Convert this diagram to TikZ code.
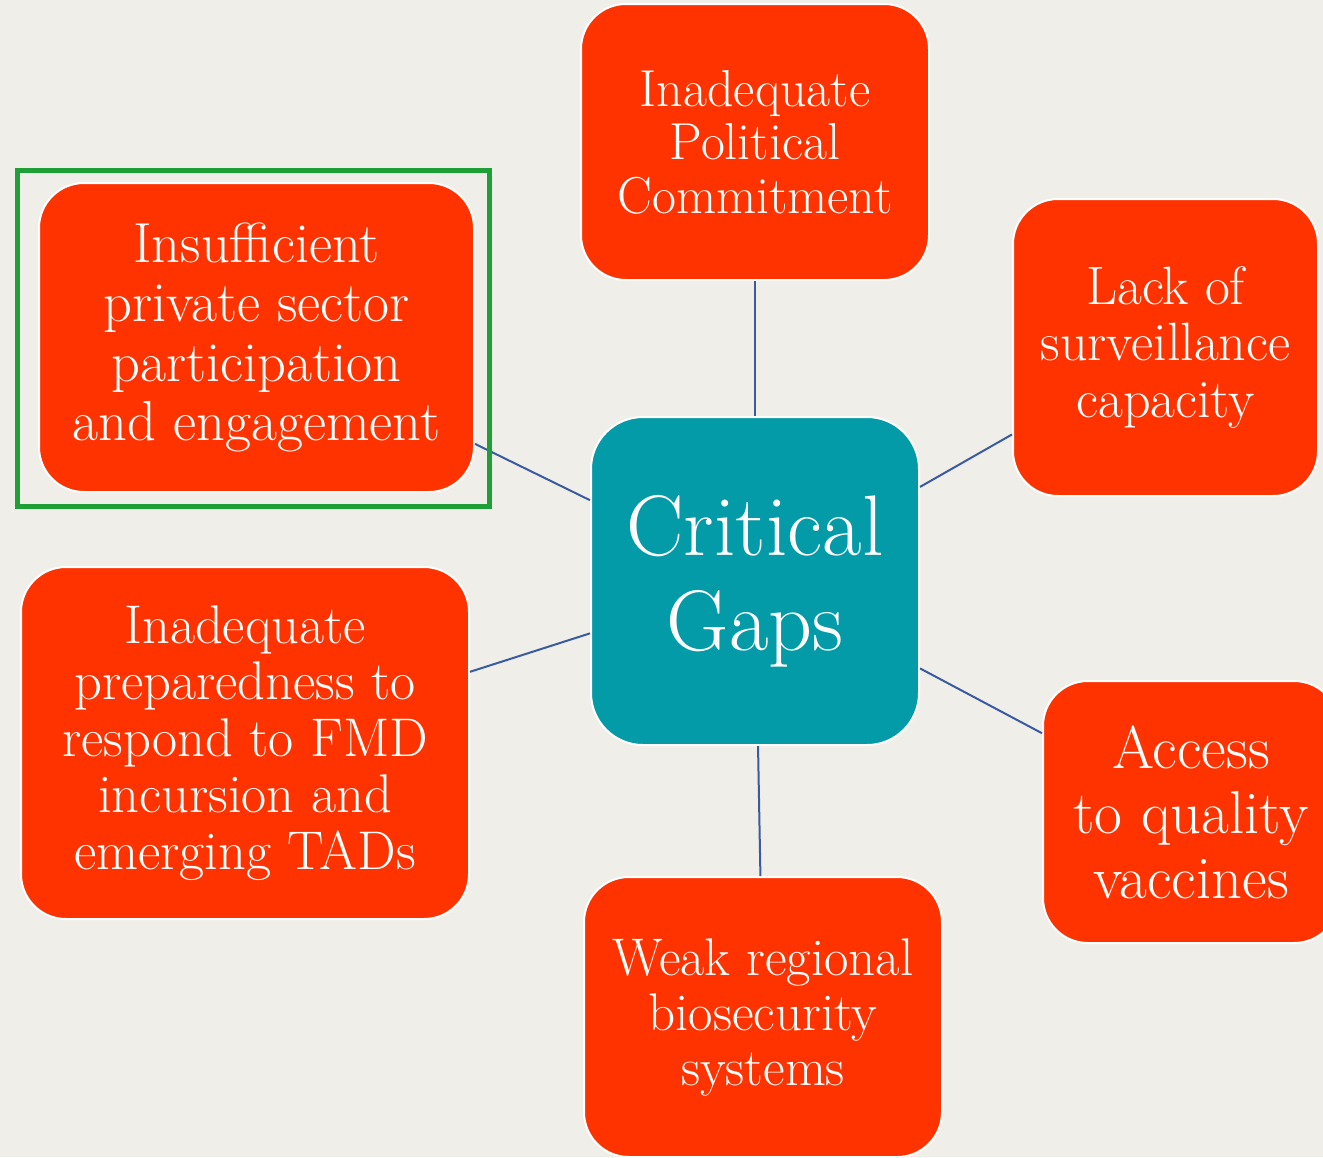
\documentclass[tikz,border=0pt]{standalone}
\definecolor{bgc}{HTML}{EFEEE9}
\definecolor{boxred}{HTML}{FF3300}
\definecolor{cgteal}{HTML}{039BA8}
\definecolor{linkblue}{HTML}{3B5BA0}
\definecolor{framegreen}{HTML}{1FA037}
\begin{document}
\begin{tikzpicture}[x=1pt,y=-1pt,
  redbox/.style={rectangle, rounded corners=45pt, fill=boxred, draw=white, line width=2pt,
    text=white, align=center, inner sep=0pt},
  centerbox/.style={rectangle, rounded corners=52pt, fill=cgteal, draw=white, line width=2pt,
    text=white, align=center, inner sep=0pt, minimum width=328pt, minimum height=328pt,
    font=\fontsize{86}{95}\selectfont},
  link/.style={draw=linkblue, line width=2pt},
  hilite/.style={draw=framegreen, line width=5pt}]
\useasboundingbox (0,0) rectangle (1323,1157);
\fill[bgc] (0,0) rectangle (1323,1157);

\node[centerbox] (c) at (755,581) {Critical\\Gaps};

\node[redbox, minimum width=348pt, minimum height=276pt, font=\fontsize{52}{53.5}\selectfont]
  (top) at (755,142) {Inadequate\\Political\\Commitment};
\node[redbox, minimum width=435pt, minimum height=309pt, font=\fontsize{56.5}{59.5}\selectfont]
  (lt) at (256.5,337.5) {Insufficient\\private sector\\participation\\and engagement};
\node[redbox, minimum width=305pt, minimum height=297pt, font=\fontsize{54}{56.5}\selectfont]
  (rt) at (1165.5,347.5) {Lack of\\surveillance\\capacity};
\node[redbox, minimum width=448pt, minimum height=352pt, font=\fontsize{54.5}{56.5}\selectfont]
  (lb) at (245,743) {Inadequate\\preparedness to\\respond to FMD\\incursion and\\emerging TADs};
\node[redbox, minimum width=296pt, minimum height=262pt, font=\fontsize{60.5}{65}\selectfont]
  (rb) at (1191,812) {Access\\to quality\\vaccines};
\node[redbox, minimum width=358pt, minimum height=280pt, font=\fontsize{53}{55}\selectfont]
  (bot) at (763,1017) {Weak regional\\biosecurity\\systems};

\draw[link] (c) -- (top);
\draw[link] (c) -- (lt);
\draw[link] (c) -- (rt);
\draw[link] (c) -- (lb);
\draw[link] (c) -- (rb);
\draw[link] (c) -- (bot);

\draw[hilite] (17.5,170.5) rectangle (489.5,506.5);
\end{tikzpicture}
\end{document}
